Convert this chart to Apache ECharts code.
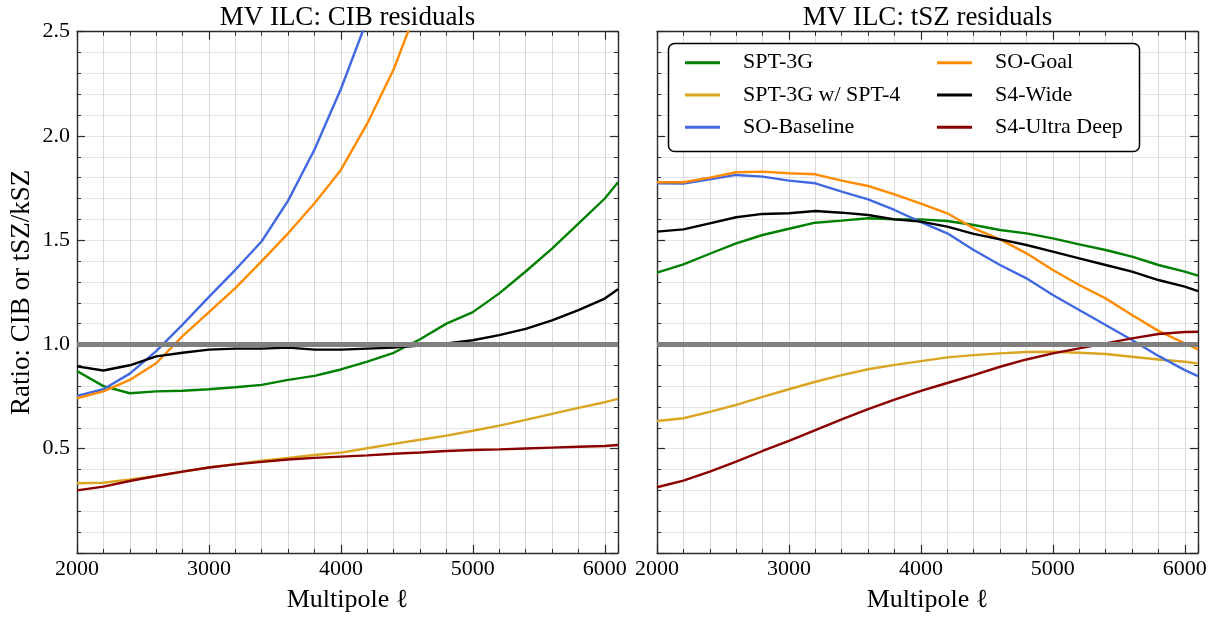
<!DOCTYPE html>
<html><head><meta charset="utf-8">
<script src="https://cdn.jsdelivr.net/npm/echarts@6/dist/echarts.min.js"></script>
<style>html,body{margin:0;padding:0;background:#fff}#c{width:1222px;height:617px}</style>
</head><body><div id="c"></div>
<script>
// ---- data ----
const ell = [2000,2200,2400,2600,2800,3000,3200,3400,3600,3800,4000,4200,4400,4600,4800,5000,5200,5400,5600,5800,6000,6100];
const seriesNames = ['SPT-3G','SPT-3G w/ SPT-4','SO-Baseline','SO-Goal','S4-Wide','S4-Ultra Deep'];
const seriesColors = ['#008000','#DAA520','#4169E1','#FF8C00','#000000','#8B0000'];
// CIB residual ratios (left panel)
const cibSPT3G    = [0.873,0.800,0.766,0.775,0.778,0.785,0.795,0.806,0.830,0.849,0.880,0.918,0.960,1.025,1.100,1.155,1.245,1.350,1.460,1.580,1.700,1.778];
const cibSPT3GSPT4= [0.334,0.337,0.352,0.368,0.390,0.410,0.426,0.442,0.456,0.470,0.481,0.502,0.523,0.543,0.563,0.586,0.611,0.638,0.667,0.696,0.723,0.739];
const cibSOBase   = [0.753,0.785,0.860,0.968,1.095,1.228,1.358,1.495,1.690,1.935,2.225,2.560,2.950,null,null,null,null,null,null,null,null,null];
const cibSOGoal   = [0.742,0.775,0.830,0.910,1.040,1.155,1.270,1.400,1.533,1.677,1.837,2.060,2.320,2.650,null,null,null,null,null,null,null,null];
const cibS4Wide   = [0.895,0.875,0.900,0.943,0.960,0.975,0.980,0.980,0.985,0.975,0.975,0.980,0.985,0.995,1.005,1.020,1.045,1.075,1.115,1.165,1.220,1.265];
const cibS4UD     = [0.300,0.318,0.345,0.369,0.390,0.410,0.425,0.437,0.448,0.456,0.462,0.468,0.476,0.482,0.489,0.494,0.497,0.501,0.505,0.509,0.513,0.518];
// tSZ residual ratios (right panel)
const tszSPT3G    = [1.344,1.384,1.435,1.485,1.525,1.555,1.584,1.594,1.605,1.600,1.600,1.592,1.573,1.549,1.533,1.509,1.480,1.453,1.421,1.381,1.349,1.330];
const tszSPT3GSPT4= [0.633,0.646,0.677,0.710,0.749,0.785,0.821,0.853,0.881,0.902,0.920,0.938,0.949,0.957,0.964,0.965,0.960,0.954,0.941,0.928,0.917,0.909];
const tszSOBase   = [1.773,1.772,1.792,1.813,1.805,1.786,1.773,1.733,1.696,1.645,1.587,1.533,1.453,1.381,1.317,1.237,1.165,1.093,1.021,0.945,0.877,0.848];
const tszSOGoal   = [1.778,1.778,1.800,1.826,1.829,1.821,1.816,1.786,1.760,1.720,1.675,1.629,1.557,1.504,1.437,1.357,1.285,1.221,1.141,1.065,1.005,0.976];
const tszS4Wide   = [1.541,1.552,1.581,1.610,1.626,1.629,1.640,1.632,1.621,1.600,1.589,1.565,1.530,1.504,1.477,1.445,1.413,1.381,1.349,1.309,1.277,1.256];
const tszS4UD     = [0.315,0.347,0.390,0.438,0.489,0.538,0.589,0.641,0.690,0.735,0.777,0.815,0.853,0.893,0.928,0.957,0.981,1.005,1.029,1.050,1.060,1.061];
const refValue = 1.0;
const xTicksMajor = 1000, xTicksMinor = 200, xMin = 2000, xMax = 6100;
const yMin = 0, yMax = 2.5, yStep = 0.5;
const titles = ['MV ILC: CIB residuals','MV ILC: tSZ residuals'];
const xName = 'Multipole \u2113';
const yName = 'Ratio: CIB or tSZ/kSZ';

const leftData = [cibSPT3G,cibSPT3GSPT4,cibSOBase,cibSOGoal,cibS4Wide,cibS4UD];
const rightData = [tszSPT3G,tszSPT3GSPT4,tszSOBase,tszSOGoal,tszS4Wide,tszS4UD];

const FONT = "'Liberation Serif','DejaVu Serif',serif";
const FRAME = '#2a2a2a';

function xAxesFor(gi, title) {
  const common = {type:'value', gridIndex:gi, min:xMin, max:xMax};
  return [
    Object.assign({}, common, {position:'bottom', interval:xTicksMajor,
      axisLine:{show:true,onZero:false,lineStyle:{color:FRAME,width:1.4}},
      axisTick:{show:true,inside:true,length:8,lineStyle:{color:FRAME,width:1.2}},
      axisLabel:{show:true,margin:5,color:'#000',fontFamily:FONT,fontSize:22,
        formatter:v=> (v % 1000 === 0) ? String(v) : ''},
      splitLine:{show:false},
      name:xName,nameLocation:'middle',nameGap:34,
      nameTextStyle:{fontFamily:FONT,fontSize:26,color:'#000'}}),
    Object.assign({}, common, {position:'bottom', interval:xTicksMinor,
      axisLine:{show:false,onZero:false},
      axisTick:{show:true,inside:true,length:4,lineStyle:{color:FRAME,width:1}},
      axisLabel:{show:false},
      splitLine:{show:true,lineStyle:{color:'#d8d8d8',width:1}}}),
    Object.assign({}, common, {position:'top', interval:xTicksMajor,
      axisLine:{show:true,onZero:false,lineStyle:{color:FRAME,width:1.4}},
      axisTick:{show:true,inside:true,length:8,lineStyle:{color:FRAME,width:1.2}},
      axisLabel:{show:false}, splitLine:{show:false},
      name:title,nameLocation:'middle',nameGap:0,
      nameTextStyle:{fontFamily:FONT,fontSize:27,color:'#000',verticalAlign:'bottom'}}),
    Object.assign({}, common, {position:'top', interval:xTicksMinor,
      axisLine:{show:false,onZero:false},
      axisTick:{show:true,inside:true,length:4,lineStyle:{color:FRAME,width:1}},
      axisLabel:{show:false}, splitLine:{show:false}})
  ];
}
function yAxesFor(gi, labels) {
  const common = {type:'value', gridIndex:gi, min:yMin, max:yMax, interval:yStep};
  const left = Object.assign({}, common, {position:'left',
    axisLine:{show:true,onZero:false,lineStyle:{color:FRAME,width:1.4}},
    axisTick:{show:true,inside:true,length:8,lineStyle:{color:FRAME,width:1.2}},
    minorTick:{show:true,splitNumber:5,length:4,lineStyle:{color:FRAME,width:1}},
    axisLabel:{show:labels,margin:7,color:'#000',fontFamily:FONT,fontSize:22,
      formatter:v=> v === 0 ? '' : v.toFixed(1)},
    splitLine:{show:true,lineStyle:{color:'#e4e4e4',width:1}},
    minorSplitLine:{show:true,lineStyle:{color:'#e4e4e4',width:1}}});
  if (labels) {
    left.name = yName; left.nameLocation = 'middle'; left.nameGap = 42;
    left.nameTextStyle = {fontFamily:FONT,fontSize:27,color:'#000'};
  }
  const right = Object.assign({}, common, {position:'right',
    axisLine:{show:true,onZero:false,lineStyle:{color:FRAME,width:1.4}},
    axisTick:{show:true,inside:true,length:8,lineStyle:{color:FRAME,width:1.2}},
    minorTick:{show:true,splitNumber:5,length:4,lineStyle:{color:FRAME,width:1}},
    axisLabel:{show:false}, splitLine:{show:false}});
  return [left, right];
}

const xAxis = [...xAxesFor(0, titles[0]), ...xAxesFor(1, titles[1])];
const yAxis = [...yAxesFor(0, true), ...yAxesFor(1, false)];

const series = [];
[leftData, rightData].forEach((set, gi) => {
  set.forEach((vals, i) => {
    series.push({
      name: seriesNames[i], type:'line', xAxisIndex: gi*4, yAxisIndex: gi*2,
      data: ell.map((l, k) => [l, vals[k]]),
      symbol:'none', showSymbol:false, connectNulls:false, clip:true,
      lineStyle:{color:seriesColors[i], width:2.4}, itemStyle:{color:seriesColors[i]},
      z:2, animation:false
    });
  });
  series.push({
    name:'ref', type:'line', xAxisIndex: gi*4, yAxisIndex: gi*2,
    data:[[xMin, refValue],[xMax, refValue]], symbol:'none',
    lineStyle:{color:'#808080', width:5}, itemStyle:{color:'#808080'},
    z:3, animation:false, silent:true
  });
});

const legendCommon = {orient:'vertical', itemWidth:35, itemHeight:3, itemGap:10.3, icon:'rect',
  padding:0, selectedMode:false, z:20,
  textStyle:{fontFamily:FONT,fontSize:22,color:'#000',lineHeight:22,padding:[0,0,0,18]}};

const option = {
  animation:false,
  backgroundColor:'#fff',
  grid:[
    {left:77, right:604, top:31.7, bottom:64.05, containLabel:false, outerBoundsMode:'none'},
    {left:657, right:24, top:31.7, bottom:64.05, containLabel:false, outerBoundsMode:'none'}
  ],
  xAxis, yAxis, series,
  legend:[
    Object.assign({}, legendCommon, {data:seriesNames.slice(0,3), left:685, top:51.7}),
    Object.assign({}, legendCommon, {data:seriesNames.slice(3,6), left:937, top:51.7})
  ],
  graphic:[{type:'rect', z:10, shape:{x:668.5,y:43.5,width:471,height:108,r:6},
    style:{fill:'#fff', stroke:'#000', lineWidth:1.5}}]
};
const chart = echarts.init(document.getElementById('c'), null, {renderer:'canvas'});
chart.setOption(option);
</script></body></html>
